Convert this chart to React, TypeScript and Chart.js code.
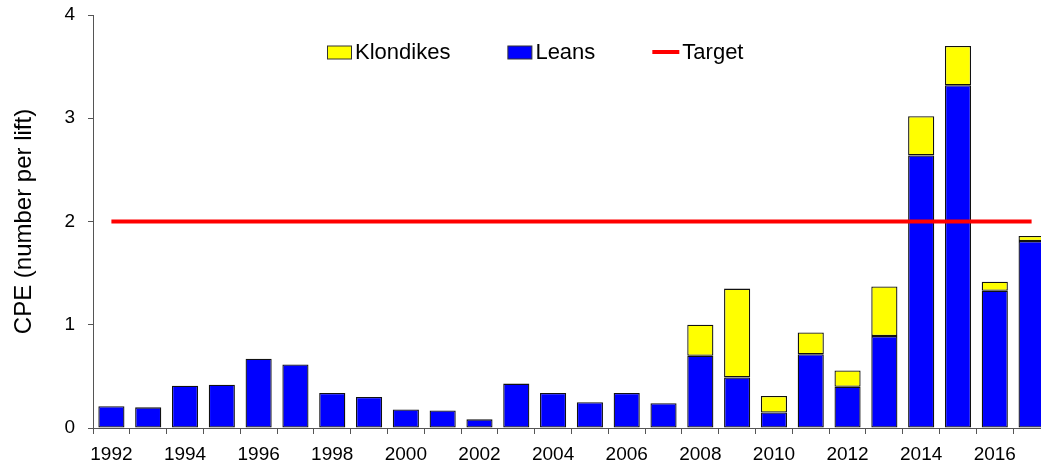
import React, { useEffect, useRef } from "react";
import { Chart, registerables } from "chart.js";

Chart.register(...registerables);

const years = [
  "1992", "1993", "1994", "1995", "1996", "1997", "1998", "1999", "2000",
  "2001", "2002", "2003", "2004", "2005", "2006", "2007", "2008", "2009",
  "2010", "2011", "2012", "2013", "2014", "2015", "2016", "2017",
];

const leans = [
  0.21, 0.2, 0.41, 0.42, 0.67, 0.615, 0.34, 0.3, 0.18, 0.17, 0.084, 0.43, 0.34,
  0.25, 0.34, 0.24, 0.7, 0.49, 0.15, 0.715, 0.4, 0.89, 2.64, 3.32, 1.33, 1.81,
];

const klondikes = [
  null, null, null, null, null, null, null, null, null, null, null, null, null,
  null, null, null, 0.3, 0.86, 0.16, 0.21, 0.157, 0.48, 0.38, 0.38, 0.086, 0.05,
];

const target = [
  2, 2, 2, 2, 2, 2, 2, 2, 2, 2, 2, 2, 2,
  2, 2, 2, 2, 2, 2, 2, 2, 2, 2, 2, 2, 2,
];

const yTickValues = [0, 1, 2, 3, 4];

const BLUE = "#0000ff";
const YELLOW = "#ffff00";
const RED = "#ff0000";
const AXIS = "#555555";
const FONT = "'Liberation Sans', Arial, sans-serif";

const legendItems = [
  { label: "Klondikes", kind: "box", color: YELLOW },
  { label: "Leans", kind: "box", color: BLUE },
  { label: "Target", kind: "line", color: RED },
];

const legendPlugin = {
  id: "insideLegend",
  afterDraw(chart: any) {
    const { ctx, chartArea } = chart;
    ctx.save();
    ctx.font = `22px ${FONT}`;
    ctx.textBaseline = "middle";
    ctx.textAlign = "left";
    let x = chartArea.left + 234;
    const cy = chartArea.top + 37;
    const sw = 24;
    const sh = 13;
    for (const item of legendItems) {
      if (item.kind === "box") {
        ctx.fillStyle = item.color;
        ctx.fillRect(x + 0.5, cy - sh / 2 + 0.5, sw, sh);
        ctx.strokeStyle = "#333333";
        ctx.lineWidth = 1;
        ctx.strokeRect(x + 0.5, cy - sh / 2 + 0.5, sw, sh);
      } else {
        ctx.strokeStyle = item.color;
        ctx.lineWidth = 4;
        ctx.beginPath();
        ctx.moveTo(x, cy);
        ctx.lineTo(x + 27, cy);
        ctx.stroke();
      }
      const tx = x + (item.kind === "box" ? sw + 4 : 30);
      ctx.fillStyle = "#000000";
      ctx.fillText(item.label, tx, cy + 1);
      const w = ctx.measureText(item.label).width;
      x = tx + w + 57;
    }
    ctx.restore();
  },
};

export default function App() {
  const ref = useRef<HTMLCanvasElement | null>(null);

  useEffect(() => {
    if (!ref.current) return;
    const chart = new Chart(ref.current, {
      type: "bar",
      data: {
        labels: years,
        datasets: [
          {
            type: "line",
            label: "Target",
            data: target,
            borderColor: RED,
            backgroundColor: RED,
            borderWidth: 4,
            pointRadius: 0,
            stack: "target",
            order: 0,
          } as any,
          {
            label: "Leans",
            data: leans,
            backgroundColor: BLUE,
            borderColor: "#111111",
            borderWidth: 1.3,
            borderSkipped: false,
            barPercentage: 0.71,
            categoryPercentage: 1,
            stack: "cpe",
            order: 1,
          },
          {
            label: "Klondikes",
            data: klondikes,
            backgroundColor: YELLOW,
            borderColor: "#111111",
            borderWidth: 1.3,
            borderSkipped: false,
            barPercentage: 0.71,
            categoryPercentage: 1,
            stack: "cpe",
            order: 1,
          },
        ],
      },
      options: {
        responsive: false,
        animation: false,
        devicePixelRatio: 1,
        layout: { padding: { top: 15, right: 10, left: 0, bottom: 0 } },
        plugins: {
          legend: { display: false },
          tooltip: { enabled: false },
        },
        scales: {
          x: {
            stacked: true,
            offset: true,
            grid: {
              offset: true,
              drawOnChartArea: false,
              drawTicks: true,
              tickLength: 6,
              color: AXIS,
            },
            border: { display: true, color: AXIS, width: 1 },
            ticks: {
              autoSkip: false,
              maxRotation: 0,
              minRotation: 0,
              padding: 9,
              color: "#000000",
              font: { family: FONT, size: 19 },
              callback: (_v: any, i: number) =>
                Number(years[i]) % 2 === 0 ? years[i] : "",
            },
            afterFit: (scale: any) => {
              scale.height = 36;
              scale.paddingLeft = 0;
              scale.paddingRight = 0;
            },
          },
          y: {
            stacked: true,
            min: 0,
            max: 4,
            afterBuildTicks: (scale: any) => {
              scale.ticks = yTickValues.map((v) => ({ value: v }));
            },
            grid: {
              drawOnChartArea: false,
              drawTicks: true,
              tickLength: 5,
              color: AXIS,
            },
            border: { display: true, color: AXIS, width: 1 },
            ticks: {
              padding: 13,
              color: "#000000",
              font: { family: FONT, size: 19 },
            },
            title: {
              display: true,
              text: "CPE (number per lift)",
              color: "#000000",
              font: { family: FONT, size: 24 },
              padding: { top: 10, bottom: 0 },
            },
            afterFit: (scale: any) => {
              scale.width = 93;
              scale.paddingTop = 0;
              scale.paddingBottom = 0;
            },
          },
        },
      },
      plugins: [legendPlugin],
    });
    return () => chart.destroy();
  }, []);

  return (
    <div
      style={{
        position: "fixed",
        left: 0,
        top: 0,
        width: 1041,
        height: 464,
        overflow: "hidden",
        background: "#ffffff",
      }}
    >
      <canvas ref={ref} width={1060} height={464} style={{ display: "block" }} />
    </div>
  );
}
